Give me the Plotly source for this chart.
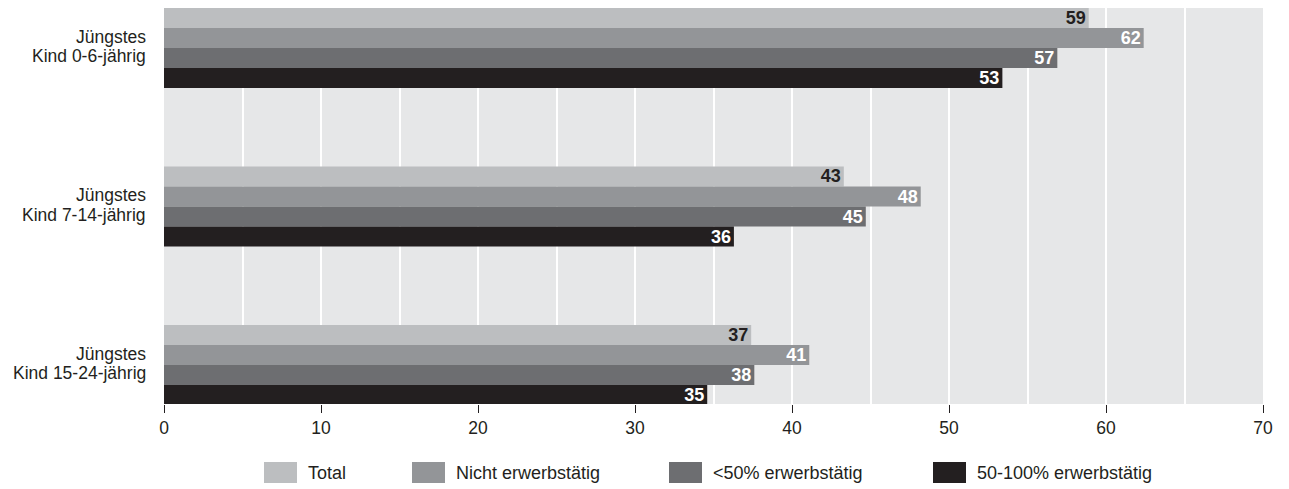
import plotly.graph_objects as go

categories = ["Jüngstes<br>Kind 0-6-jährig", "Jüngstes<br>Kind 7-14-jährig", "Jüngstes<br>Kind 15-24-jährig"]
series_names = ["Total", "Nicht erwerbstätig", "<50% erwerbstätig", "50-100% erwerbstätig"]
total = [58.9, 43.3, 37.4]
nicht_erwerbstaetig = [62.4, 48.2, 41.1]
unter50 = [56.9, 44.7, 37.6]
ueber50 = [53.4, 36.3, 34.6]
series_values = [total, nicht_erwerbstaetig, unter50, ueber50]
colors = ["#bcbec0", "#939598", "#6d6e71", "#231f20"]
label_colors = ["#231f20", "#ffffff", "#ffffff", "#ffffff"]
x_ticks = [0, 10, 20, 30, 40, 50, 60, 70]

FONT = "Liberation Sans, Arial, sans-serif"
TXT = "#231f20"

fig = go.Figure()
for name, vals, col, lcol in zip(series_names, series_values, colors, label_colors):
    fig.add_trace(go.Bar(
        y=categories, x=vals, name=name, orientation="h",
        marker=dict(color=col, line=dict(width=0)),
        texttemplate="%{x:.0f}", textposition="inside", insidetextanchor="end",
        textangle=0, constraintext="none",
        textfont=dict(family=FONT, size=18, color=lcol, weight="bold"),
        hoverinfo="skip", showlegend=False,
    ))

# plot area in pixels
L, R, T, B = 164, 26, 8, 85
W, H = 1289, 489
pw, ph = W - L - R, H - T - B

def px2paper_x(px):
    return (px - L) / pw

def px2paper_y(py):
    return (H - B - py) / ph

shapes = []
annotations = []
# category labels (two lines each)
for cat in categories:
    lines = cat.split("<br>")
    shifts = [11.5, -8.0]
    for ln, sh in zip(lines, shifts):
        annotations.append(dict(
            x=0, xref="paper", xanchor="right", xshift=-16,
            y=cat, yref="y", yanchor="middle", yshift=sh,
            text=ln, showarrow=False,
            font=dict(family=FONT, size=17.5, color=TXT), align="right",
        ))

# manual legend
leg_x = [264, 412, 669, 933]
for name, col, lx in zip(series_names, colors, leg_x):
    shapes.append(dict(
        type="rect", xref="paper", yref="paper",
        x0=px2paper_x(lx), x1=px2paper_x(lx + 33),
        y0=px2paper_y(483), y1=px2paper_y(462),
        fillcolor=col, line=dict(width=0),
    ))
    annotations.append(dict(
        x=px2paper_x(lx + 42), xref="paper", xanchor="left",
        y=px2paper_y(472.5), yref="paper", yanchor="middle",
        text=name.replace("<", "&lt;"), showarrow=False,
        font=dict(family=FONT, size=18, color=TXT),
    ))

fig.update_layout(
    width=W, height=H,
    margin=dict(l=L, r=R, t=T, b=B),
    paper_bgcolor="#ffffff", plot_bgcolor="#e6e7e8",
    barmode="group", bargap=0.495, bargroupgap=0,
    font=dict(family=FONT, color=TXT, size=17.5),
    showlegend=False,
    shapes=shapes, annotations=annotations,
    xaxis=dict(
        range=[0, 70], tickvals=x_ticks, ticks="outside", ticklen=8,
        tickcolor=TXT, tickwidth=1, showgrid=True, gridcolor="#ffffff", gridwidth=2,
        minor=dict(dtick=5, showgrid=True, gridcolor="#ffffff", gridwidth=2, ticks=""),
        zeroline=False, showline=False, tickfont=dict(family=FONT, size=17.5, color=TXT),
        fixedrange=True,
    ),
    yaxis=dict(
        type="category", categoryorder="array", categoryarray=categories,
        range=[2.246, -0.2524], showticklabels=False, showgrid=False,
        zeroline=False, showline=False, ticks="", fixedrange=True,
    ),
)

fig.write_html("out.html")
